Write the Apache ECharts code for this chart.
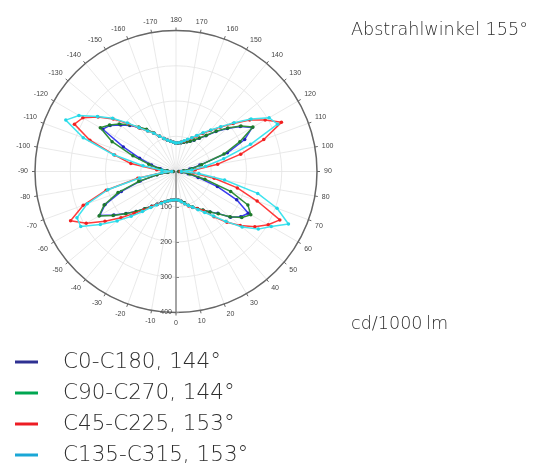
<!DOCTYPE html>
<html>
<head>
<meta charset="utf-8">
<script src="https://cdn.jsdelivr.net/npm/echarts@6/dist/echarts.min.js"></script>
<style>
html,body{margin:0;padding:0;background:#fff;}
#chart{width:543px;height:464px;}
</style>
</head>
<body>
<div id="chart"></div>
<script>
// Angles in degrees (0 = down, positive = counter-clockwise toward the right)
const angles = [-180,-175,-170,-165,-160,-155,-150,-145,-140,-135,-130,-125,-120,-115,-110,-105,-100,-95,-90,-85,-80,-75,-70,-65,-60,-55,-50,-45,-40,-35,-30,-25,-20,-15,-10,-5,0,5,10,15,20,25,30,35,40,45,50,55,60,65,70,75,80,85,90,95,100,105,110,115,120,125,130,135,140,145,150,155,160,165,170,175,180];

const c0c180 = [80,83,87,92,100,110,125,145,163,185,205,228,240,165,110,72,45,25,8,25,55,105,165,222,250,215,185,160,138,120,107,97,91,86,83,81,80,82,86,92,103,112,122,134,150,168,202,224,237,190,125,65,35,15,8,20,40,70,155,215,250,222,190,160,132,115,102,95,90,86,83,81,80];

const c90c270 = [80,83,87,92,100,110,126,146,165,188,210,230,248,200,130,80,50,25,8,22,55,110,175,225,252,218,186,160,138,120,107,97,91,86,83,81,80,82,86,92,102,111,121,133,150,170,200,228,245,225,165,85,40,18,8,22,45,75,145,200,252,225,192,162,134,116,103,95,90,86,83,81,80];

const c45c225 = [81,83,87,92,100,110,125,140,160,192,232,270,305,318,260,180,130,55,12,40,110,205,280,330,294,246,204,168,143,122,108,98,91,87,83,81,80,82,87,95,104,113,122,137,168,204,238,273,302,325,245,180,110,50,12,55,120,190,265,330,292,255,212,178,152,132,116,105,96,89,85,82,81];

const c135c315 = [81,83,87,92,100,110,125,140,162,195,235,272,318,345,280,183,95,40,12,40,105,200,268,310,312,262,218,180,148,125,110,99,91,87,83,81,80,82,87,95,103,112,125,142,165,200,245,285,312,352,305,240,140,65,15,45,85,140,225,318,305,260,215,180,154,134,118,106,97,90,85,82,81];

const seriesNames = ['C0-C180, 144°','C90-C270, 144°','C45-C225, 153°','C135-C315, 153°'];
const radialTicks = [0,100,200,300,400];
const titleText = 'Abstrahlwinkel 155°';
const unitText = 'cd/1000\u2009lm';

const toPolar = vals => angles.map((a, i) => [vals[i], a < 0 ? a + 360 : a]);

const lineColors = ['#3a3cf0','#2f8f3a','#ff3a3a','#3fe3ee'];
const markColors = ['#1f22b8','#1d7a2a','#f02020','#22d6e6'];
const legendColors = ['#2e3192','#00a651','#ed1c24','#1aa7d6'];
const allVals = [c0c180, c90c270, c45c225, c135c315];

const chart = echarts.init(document.getElementById('chart'), null, {renderer:'canvas'});
const font = '"DejaVu Sans", "Open Sans", sans-serif';
const smallFont = '"Liberation Sans", Arial, sans-serif';

chart.setOption({
  animation: false,
  backgroundColor: '#fff',
  title: [
    {text: titleText, left: 351, top: 21, padding: 0, textStyle:{fontFamily: font, fontSize: 17.6, fontWeight: 200, color:'#2e2e2e'}},
    {text: unitText, left: 351, top: 315, padding: 0, textStyle:{fontFamily: font, fontSize: 17.6, fontWeight: 200, color:'#2e2e2e'}}
  ],
  polar: {center: [176, 171.5], radius: 141},
  angleAxis: {
    type: 'value', min: 0, max: 360, interval: 10,
    startAngle: -90, clockwise: false,
    axisLine: {show: true, lineStyle: {color: '#666', width: 1.5}},
    axisTick: {show: true, length: 3, lineStyle: {color: '#666'}},
    axisLabel: {fontSize: 7, color: '#444', margin: 7, fontFamily: smallFont,
      formatter: v => (v > 180 ? String(v - 360) : String(v))},
    splitLine: {show: true, lineStyle: {color: '#e3e3e3', width: 0.8}}
  },
  radiusAxis: {
    type: 'value', min: radialTicks[0], max: radialTicks[radialTicks.length-1], interval: 100,
    axisLine: {show: true, lineStyle: {color: '#8a8a8a', width: 1.5}},
    axisTick: {show: true, inside: true, length: 3, lineStyle: {color: '#888'}},
    axisLabel: {align: 'right', margin: -4, fontSize: 7, color: '#444', fontFamily: smallFont, formatter: v => (v === 0 ? '' : String(v))},
    splitLine: {show: true, lineStyle: {color: '#e3e3e3', width: 0.8}}
  },
  legend: {
    orient: 'vertical', left: 15, top: 351, height: 140, padding: 0,
    icon: 'rect', itemWidth: 23, itemHeight: 3, itemGap: 9,
    textStyle: {fontFamily: font, fontSize: 21.5, fontWeight: 200, color: '#2e2e2e', lineHeight: 21, padding: [0,0,0,20]},
    data: seriesNames.map((n, i) => ({name: n, itemStyle: {color: legendColors[i]}}))
  },
  series: seriesNames.map((n, i) => ({
    name: n, type: 'line', coordinateSystem: 'polar',
    data: toPolar(allVals[i]),
    symbol: 'circle', symbolSize: 3.5, showSymbol: true,
    lineStyle: {color: lineColors[i], width: 1.5},
    itemStyle: {color: markColors[i]},
    z: 2 + i
  }))
});
</script>
</body>
</html>
